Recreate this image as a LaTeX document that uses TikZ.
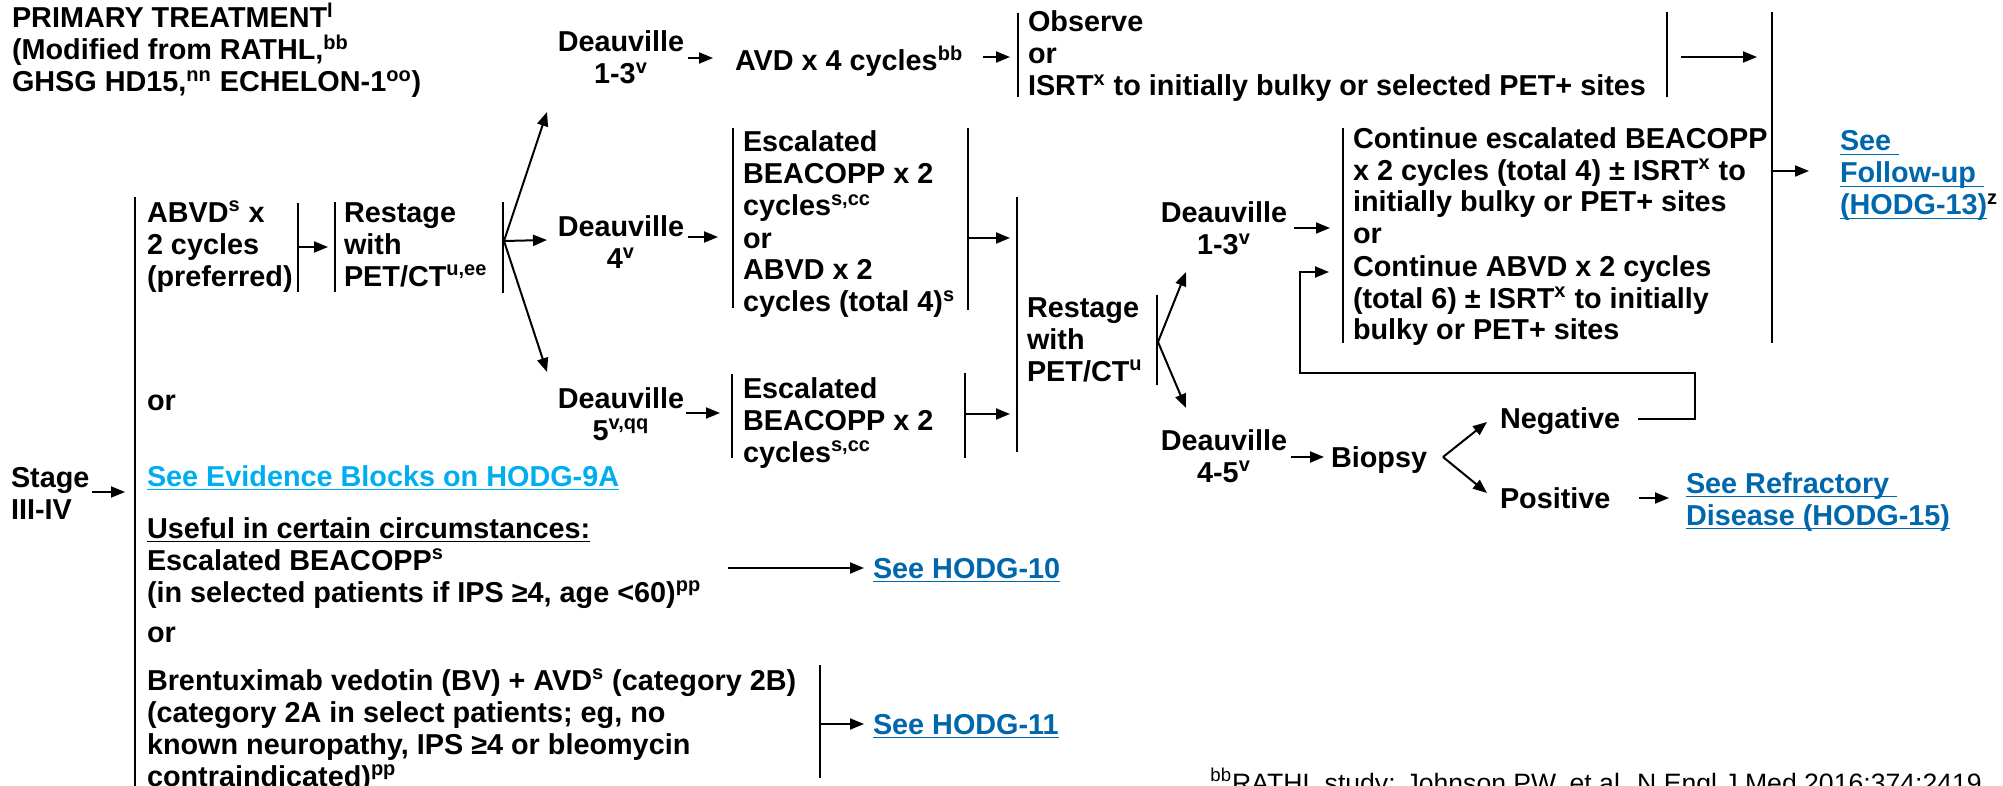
\documentclass[tikz,border=0pt]{standalone}
\usepackage{fontspec}
\setmainfont{Liberation Sans}
\usetikzlibrary{arrows.meta}
\definecolor{linkblue}{RGB}{0,103,172}
\definecolor{evblue}{RGB}{0,174,239}
\newcommand{\sps}[1]{\textsuperscript{#1}}
\newcommand{\ulk}[1]{\setbox0=\hbox{#1}\rlap{\rule[-2.2pt]{\wd0}{0.8pt}}\box0}
\begin{document}
\begin{tikzpicture}[x=0.5pt,y=-0.5pt,
  txt/.style={inner sep=0pt, outer sep=0pt, align=left, anchor=base west,
    font=\fontsize{14.4pt}{16pt}\selectfont\bfseries},
  ctxt/.style={txt, align=center, anchor=base},
  bar/.style={line width=1pt},
  arr/.style={line width=1pt, -{Triangle[length=7pt,width=5.5pt]}}]
\useasboundingbox (0,0) rectangle (2003,786);

% (multi-line nodes are anchored at the baseline of their last line)
% title
\node[txt] (title) at (12,92) {PRIMARY TREATMENT\sps{l}\\(Modified from RATHL,\sps{bb}\\GHSG HD15,\sps{nn} ECHELON-1\sps{oo})};

% stage
\node[txt] (stage) at (11,519) {Stage\\III-IV};
\draw[bar] (135,197) -- (135,790);
\coordinate (bigL) at (125,492);
\draw[arr] (92,492) -- (bigL);

% ABVD
\node[txt] (abvd) at (147,286) {ABVD\sps{s} x\\2 cycles\\(preferred)};
\draw[bar] (298,203) -- (298,292);
\coordinate (abvdR) at (298,247);
\coordinate (rest1L) at (328,247);
\draw[arr] (abvdR) -- (rest1L);
\draw[bar] (335,202) -- (335,292);
\node[txt] (rest1) at (344,286) {Restage\\with\\PET/CT\sps{u,ee}};
\draw[bar] (503,202) -- (503,293);
\coordinate (fan1) at (504,241);
\draw[arr] (fan1) -- (547,112);
\draw[arr] (fan1) -- (547,240);
\draw[arr] (fan1) -- (547,372);

% Deauville first column
\node[ctxt] (d13a) at (621,84) {Deauville\\1-3\sps{v}};
\node[ctxt] (d4) at (621,269) {Deauville\\4\sps{v}};
\node[ctxt] (d5) at (621,440) {Deauville\\5\sps{v,qq}};
\draw[arr] (688,58) -- (713,58);
\draw[arr] (688,237) -- (718,237);
\draw[arr] (686,413) -- (720,413);

% AVD / observe
\node[txt] (avd) at (735,71) {AVD x 4 cycles\sps{bb}};
\draw[arr] (983,57) -- (1010,57);
\draw[bar] (1018,13) -- (1018,97);
\node[txt] (obs) at (1028,96) {Observe\\or\\ISRT\sps{x} to initially bulky or selected PET+ sites};
\draw[bar] (1667,12) -- (1667,97);
\draw[arr] (1681,57) -- (1757,57);

% follow-up
\draw[bar] (1772,12) -- (1772,343);
\draw[arr] (1772,171) -- (1809,171);
\node[txt, text=linkblue] (fu) at (1840,215) {\ulk{See\ }\\\ulk{Follow-up\ }\\\ulk{(HODG-13)}\textcolor{black}{\sps{z}}};

% escalated 1
\draw[bar] (733,128) -- (733,308);
\node[txt] (esc1) at (743,312) {Escalated\\BEACOPP x 2\\cycles\sps{s,cc}\\or\\ABVD x 2\\cycles (total 4)\sps{s}};
\draw[bar] (968,128) -- (968,310);
\draw[arr] (968,238) -- (1010,238);

% escalated 2
\draw[bar] (732,374) -- (732,458);
\node[txt] (esc2) at (743,462) {Escalated\\BEACOPP x 2\\cycles\sps{s,cc}};
\draw[bar] (965,373) -- (965,458);
\draw[arr] (965,414) -- (1010,414);

% restage 2
\draw[bar] (1017,197) -- (1017,452);
\node[txt] (rest2) at (1027,381) {Restage\\with\\PET/CT\sps{u}};
\draw[bar] (1157,295) -- (1157,385);
\coordinate (fan2) at (1158,342);
\draw[arr] (fan2) -- (1186,272);
\draw[arr] (fan2) -- (1186,408);

\node[ctxt] (d13b) at (1224,255) {Deauville\\1-3\sps{v}};
\draw[arr] (1294,228) -- (1330,228);
\node[ctxt] (d45) at (1224,482) {Deauville\\4-5\sps{v}};
\draw[arr] (1291,457) -- (1324,457);

% continue
\draw[bar] (1343,128) -- (1343,343);
\node[txt] (cont) at (1353,340) {Continue escalated BEACOPP\\x 2 cycles (total 4) ± ISRT\sps{x} to\\initially bulky or PET+ sites\\or\\Continue ABVD x 2 cycles\\(total 6) ± ISRT\sps{x} to initially\\bulky or PET+ sites};

% biopsy
\node[txt] (bio) at (1331,467) {Biopsy};
\coordinate (fan3) at (1443,457);
\node[txt] (neg) at (1500,428) {Negative};
\node[txt] (pos) at (1500,508) {Positive};
\draw[arr] (fan3) -- (1487,422);
\draw[arr] (fan3) -- (1487,493);
\draw[arr] (1638,419) -- (1695,419) -- (1695,373) -- (1300,373) -- (1300,272) -- (1329,272);
\draw[arr] (1639,498) -- (1669,498);
\node[txt, text=linkblue] (refr) at (1686,525) {\ulk{See Refractory\ }\\\ulk{Disease (HODG-15)}};

% left lower column
\node[txt] (or1) at (147,410) {or};
\node[txt, text=evblue] (ev) at (147,486) {\ulk{See Evidence Blocks on HODG-9A}};
\node[txt] (useful) at (147,538) {\ulk{Useful in certain circumstances:}};
\node[txt] (esc3) at (147,602) {Escalated BEACOPP\sps{s}\\(in selected patients if IPS ≥4, age <60)\sps{pp}};
\draw[arr] (728,568) -- (864,568);
\node[txt, text=linkblue] (h10) at (873,578) {\ulk{See HODG-10}};
\node[txt] (or2) at (147,642) {or};
\node[txt] (bv) at (147,786) {Brentuximab vedotin (BV) + AVD\sps{s} (category 2B)\\(category 2A in select patients; eg, no\\known neuropathy, IPS ≥4 or bleomycin\\contraindicated)\sps{pp}};
\draw[bar] (820,665) -- (820,778);
\draw[arr] (820,724) -- (864,724);
\node[txt, text=linkblue] (h11) at (873,734) {\ulk{See HODG-11}};

% footnote
\node[inner sep=0pt, anchor=base west, font=\fontsize{13.3pt}{15pt}\selectfont] (fn) at (1210,792) {\textsuperscript{bb}RATHL study: Johnson PW, et al. N Engl J Med 2016;374:2419};
\end{tikzpicture}
\end{document}
